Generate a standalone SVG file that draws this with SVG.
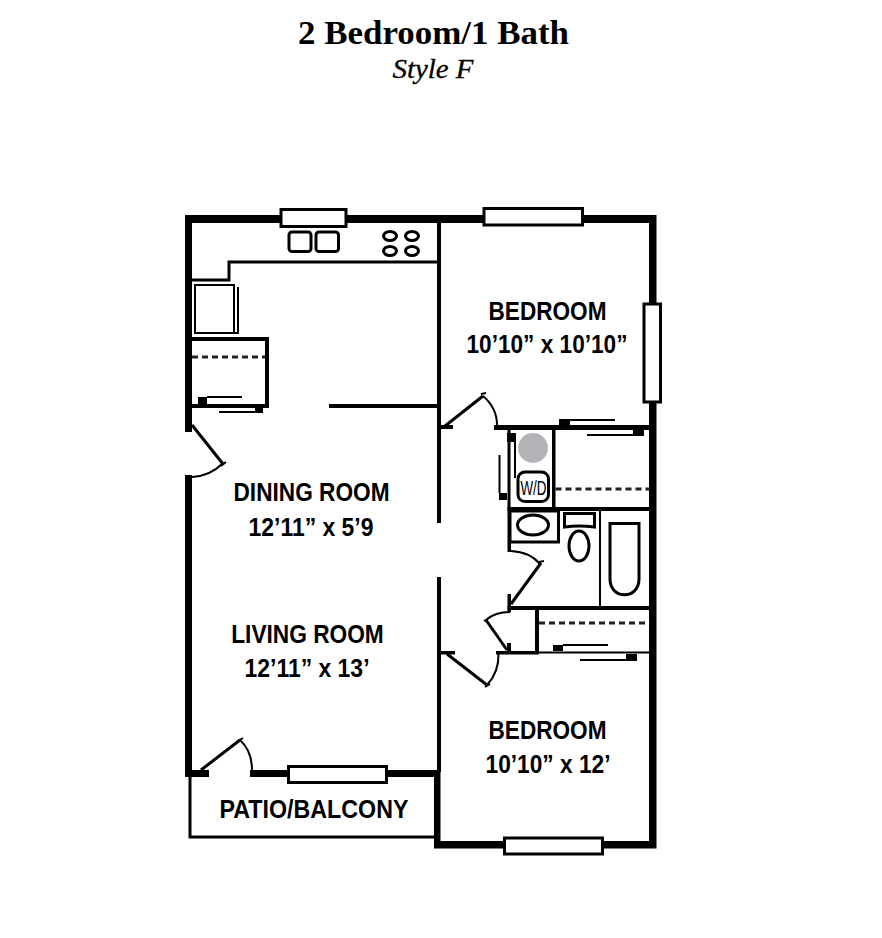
<svg xmlns="http://www.w3.org/2000/svg" width="882" height="938" viewBox="0 0 882 938">
<style>
.w{fill:#000}
.thin{fill:none;stroke:#000;stroke-width:2}
.mid{fill:none;stroke:#000;stroke-width:3}
.win{fill:#fff;stroke:#000;stroke-width:3}
.dash{fill:none;stroke:#231f20;stroke-width:3;stroke-dasharray:6 4}
.lab{font-family:"Liberation Sans",Arial,sans-serif;font-weight:700;font-size:26.5px;text-anchor:middle;fill:#000}
</style>
<rect width="882" height="938" fill="#fff"/>
<g id="title">
<text x="433.500" y="44" font-family="Liberation Serif,serif" font-weight="700" font-size="34" text-anchor="middle" textLength="271" lengthAdjust="spacingAndGlyphs">2 Bedroom/1 Bath</text>
<text x="433" y="78" font-family="Liberation Serif,serif" font-style="italic" font-size="27" text-anchor="middle" textLength="81" lengthAdjust="spacingAndGlyphs" stroke="#000" stroke-width="0.3">Style F</text>
</g>
<g id="walls">
<path class="w" d="M185 215H656.500V848.500H434V770H440.500V841H649V223H192V432H185Z"/>
<rect class="w" x="185" y="475" width="7" height="302"/>
<rect class="w" x="185" y="770" width="24" height="7"/>
<rect class="w" x="250" y="770" width="190" height="7"/>
<rect class="w" x="437" y="223" width="4" height="300"/>
<rect class="w" x="437" y="577" width="4" height="195"/>
<rect class="w" x="329" y="404" width="109" height="4"/>
<path class="w" d="M192 337H269V408H192V404H265V341H192Z"/>
<rect class="w" x="494" y="425" width="156" height="5"/>
<rect class="w" x="438" y="425" width="15" height="4"/>
<rect class="w" x="507.500" y="430" width="3" height="77"/>
<rect class="w" x="552" y="430" width="3.500" height="77"/>
<rect class="w" x="507.500" y="507" width="143" height="4"/>
<rect class="w" x="507.500" y="507" width="3.500" height="45"/>
<rect class="w" x="507.500" y="594" width="3.500" height="18"/>
<rect class="w" x="507.500" y="606" width="143" height="4"/>
<rect class="w" x="535" y="610" width="4" height="44"/>
<rect class="w" x="496" y="651" width="43" height="3.500"/>
<rect class="w" x="538" y="651.500" width="112" height="2"/>
<rect class="w" x="438" y="651" width="17" height="3.500"/>
<rect class="w" x="507" y="643" width="4" height="8"/>
<path class="mid" d="M190 777V837H436"/>
</g>
<g id="windows">
<rect class="win" x="281" y="209.500" width="65" height="17"/>
<rect class="win" x="484" y="208.500" width="98.500" height="16.500"/>
<rect class="win" x="644" y="304" width="16.500" height="98"/>
<rect class="win" x="288.500" y="766.500" width="98" height="16"/>
<rect class="win" x="504.500" y="838" width="98" height="16"/>
</g>
<g id="kitchen">
<rect class="mid" x="289" y="232" width="22" height="19.500" rx="3"/>
<rect class="mid" x="316" y="232" width="22.500" height="19.500" rx="3"/>
<ellipse class="mid" cx="390" cy="236" rx="6.500" ry="4.500"/>
<ellipse class="mid" cx="412" cy="236" rx="6.500" ry="4.500"/>
<ellipse class="mid" cx="390" cy="251" rx="6.500" ry="4.500"/>
<ellipse class="mid" cx="412" cy="251" rx="6.500" ry="4.500"/>
<path class="mid" d="M438 262H229V280H192"/>
<rect class="thin" x="195" y="285" width="39" height="48"/>
<path class="thin" d="M238 287V333H234"/>
</g>
<g id="closets">
<path class="dash" d="M192 357H265"/>
<path class="dash" d="M555.500 489H650"/>
<path class="dash" d="M539 623H650"/>
<rect class="w" x="198" y="397" width="9" height="7"/>
<path class="thin" d="M207 397H242"/>
<rect class="w" x="255" y="408" width="8" height="5"/>
<path class="thin" d="M219 412H255"/>
<rect class="w" x="559" y="419" width="11" height="6"/>
<path class="thin" d="M570 420H615"/>
<rect class="w" x="633" y="430" width="11" height="6"/>
<path class="thin" d="M587 435H633"/>
<rect class="w" x="507" y="433" width="9" height="9"/>
<path class="thin" d="M515 442V478"/>
<rect class="w" x="499" y="493" width="8" height="7"/>
<path class="thin" d="M499.500 455V493"/>
<rect class="w" x="553" y="645" width="10" height="6"/>
<path class="thin" d="M563 645H608"/>
<rect class="w" x="626" y="654" width="11" height="7"/>
<path class="thin" d="M580 660H626"/>
</g>
<g id="doors">
<path class="mid" d="M192 425L223 464"/>
<path class="thin" d="M221 466L226 462M222 464Q210 476 192 477"/>
<path class="mid" d="M445 426L483 396"/>
<path class="thin" d="M481 394L486 393M483 396Q497 408 497 425"/>
<path class="mid" d="M511 604L541 563"/>
<path class="thin" d="M539 562L544 561M540 564Q530 552 511 551"/>
<path class="mid" d="M507 650L486 620"/>
<path class="thin" d="M484 621L489 618M486 620Q495 612 510 612"/>
<path class="mid" d="M447 654L487 685"/>
<path class="thin" d="M485 687L490 684M487 685Q499 672 498.500 654"/>
<path class="mid" d="M201 770L240 740"/>
<path class="thin" d="M238 741L243 738M240 740Q252 751 252 770"/>
</g>
<g id="laundry">
<circle cx="533" cy="448" r="15" fill="#b1b3b6"/>
<rect class="mid" x="518" y="472" width="30.500" height="29.500" rx="7"/>
<text x="533.500" y="495" font-family="Liberation Sans,sans-serif" font-size="21" text-anchor="middle" textLength="26" lengthAdjust="spacingAndGlyphs">W/D</text>
</g>
<g id="bath">
<rect class="mid" x="510" y="511" width="48.500" height="31"/>
<ellipse class="mid" cx="533" cy="525" rx="15.500" ry="10"/>
<path class="mid" d="M564.500 513.500H594.500V527Q579 525 564.500 527Z"/>
<ellipse class="mid" cx="579" cy="546" rx="10" ry="15"/>
<path class="thin" d="M600 511V606"/>
<path class="mid" d="M610 523.500H639V579C639 600 610 600 610 579Z"/>
</g>
<g id="labels">
<text class="lab" x="547.500" y="320" textLength="118" lengthAdjust="spacingAndGlyphs">BEDROOM</text>
<text class="lab" x="547" y="352.500" textLength="161" lengthAdjust="spacingAndGlyphs">10’10” x 10’10”</text>
<text class="lab" x="311.500" y="501" textLength="156" lengthAdjust="spacingAndGlyphs">DINING ROOM</text>
<text class="lab" x="311" y="535.500" textLength="125" lengthAdjust="spacingAndGlyphs">12’11” x 5’9</text>
<text class="lab" x="307.500" y="643" textLength="152.500" lengthAdjust="spacingAndGlyphs">LIVING ROOM</text>
<text class="lab" x="307" y="677" textLength="125" lengthAdjust="spacingAndGlyphs">12’11” x 13’</text>
<text class="lab" x="547.500" y="739" textLength="118" lengthAdjust="spacingAndGlyphs">BEDROOM</text>
<text class="lab" x="548" y="772.500" textLength="125" lengthAdjust="spacingAndGlyphs">10’10” x 12’</text>
<text class="lab" x="314" y="817.500" textLength="189" lengthAdjust="spacingAndGlyphs">PATIO/BALCONY</text>
</g>
</svg>
